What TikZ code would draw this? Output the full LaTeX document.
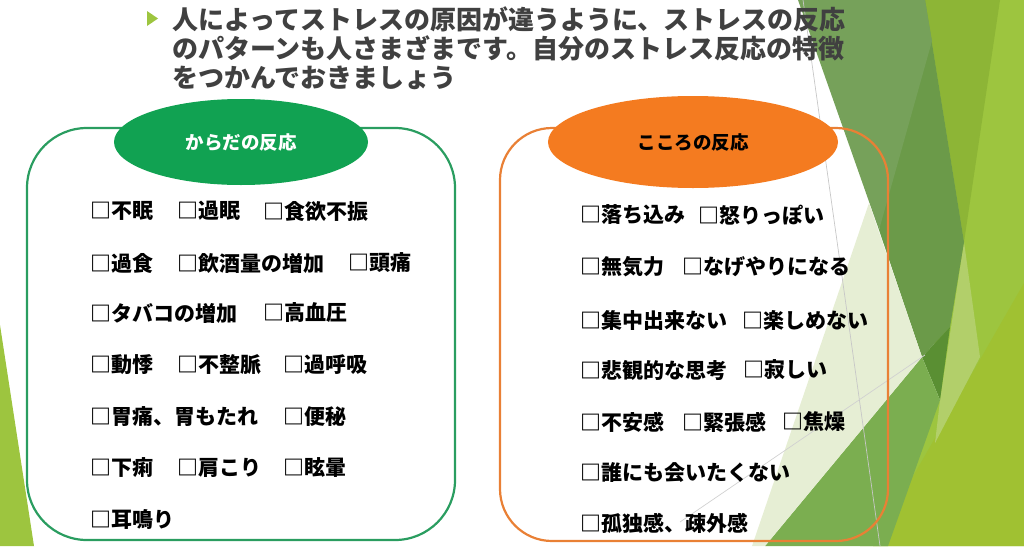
\documentclass[tikz,border=0pt]{standalone}
\usepackage{fontspec}
\newfontfamily\jp{Noto Sans CJK JP}[CharacterWidth=Full]
\usepackage{tikz}
\usetikzlibrary{shapes.geometric}

\definecolor{titlegray}{HTML}{404040}
\definecolor{bodygreen}{HTML}{11A252}
\definecolor{bodyline}{HTML}{2A9D60}
\definecolor{mindorange}{HTML}{F47B20}
\definecolor{mindline}{HTML}{E98035}
\definecolor{leafmid}{HTML}{76A15A}
\definecolor{leafdark}{HTML}{6B9A49}
\definecolor{leafdeep}{HTML}{5A8F33}
\definecolor{leafolive}{HTML}{8DB536}
\definecolor{leaflight}{HTML}{9DC53F}
\definecolor{leafbright}{HTML}{A0C132}
\definecolor{leafpale}{HTML}{B2CF6A}
\definecolor{leafgrass}{HTML}{7BAE50}
\definecolor{leafmist}{HTML}{E6EED4}

\tikzset{
  item/.style={anchor=west, inner sep=0pt, font=\jp\bfseries\fontsize{21}{24}\selectfont},
  title/.style={anchor=base west, inner sep=0pt, text=titlegray, font=\jp\bfseries\fontsize{26}{30}\selectfont},
  head/.style={ellipse, inner sep=0pt, font=\jp\bfseries\fontsize{18.5}{22}\selectfont},
}

\begin{document}
\begin{tikzpicture}[x=1pt, y=-1pt]
\useasboundingbox (0,0) rectangle (1024,546);

% facets
\fill[leaflight] (900,0) -- (1024,0) -- (1024,546) -- (860,546) -- (940,400) -- cycle;
\fill[leafbright] (1024,283) -- (1024,546) -- (873,546) -- cycle;
\fill[leafolive] (925,0) -- (1000,0) -- (964,242) -- cycle;
\fill[leafpale] (964,242) -- (980,357) -- (935,443) -- (940,400) -- cycle;
\fill[leafdark] (925,0) -- (964,242) -- (950,327) -- (922,357) -- (879,230) -- cycle;
\fill[leafmid] (798,0) -- (925,0) -- (932,41) -- (879,230) -- cycle;
\fill[leafdeep] (922,357) -- (950,327) -- (940,400) -- cycle;
\fill[leafgrass] (922,357) -- (940,400) -- (888,546) -- (765,546) -- cycle;
\fill[leafmist] (869,203) -- (922,357) -- (765,546) -- (752,546) -- cycle;
\fill[leaflight] (0,325) -- (34,546) -- (0,546) -- cycle;
\draw[black!22, line width=0.7pt] (803,0) -- (880,546);
\draw[black!18, line width=0.7pt] (680,522) -- (925,355);

% title
\fill[leaflight] (147,11) -- (158,18.5) -- (147,26) -- cycle;
\node[title] (t1) at (172,29) {人によってストレスの原因が違うように、ストレスの反応};
\node[title] (t2) at (172,58) {のパターンも人さまざまです。自分のストレス反応の特徴};
\node[title] (t3) at (172,87) {をつかんでおきましょう};

% body
\draw[bodyline, line width=2.2pt, rounded corners=60pt] (27,128) rectangle (455,540);
\node[head, fill=bodygreen, text=white, minimum width=254pt, minimum height=86pt] (body) at (241,142) {からだの反応};
\foreach \x/\y/\t [count=\i] in {90/211/不眠, 177/211/過眠, 263/211/食欲不振,
    90/263/過食, 177/263/飲酒量の増加, 348/263/頭痛,
    90/313/タバコの増加, 263/313/高血圧,
    90/365/動悸, 177/365/不整脈, 283/365/過呼吸,
    90/417/胃痛、胃もたれ, 283/417/便秘,
    90/468/下痢, 177/468/肩こり, 283/468/眩暈,
    90/520/耳鳴り}
  \node[item] (b\i) at (\x,\y) {□\t};

% mind
\draw[mindline, line width=2.2pt, rounded corners=52pt] (500,128) rectangle (888,541);
\node[head, fill=mindorange, text=black, minimum width=290pt, minimum height=92pt] (mind) at (693,142) {こころの反応};
\foreach \x/\y/\t [count=\i] in {580/215/落ち込み, 698/215/怒りっぽい,
    580/267/無気力, 682/267/なげやりになる,
    580/320/集中出来ない, 742/320/楽しめない,
    580/370/悲観的な思考, 743/370/寂しい,
    580/422/不安感, 682/422/緊張感, 782/422/焦燥,
    580/472/誰にも会いたくない,
    580/523/孤独感、疎外感}
  \node[item] (m\i) at (\x,\y) {□\t};
\end{tikzpicture}
\end{document}
